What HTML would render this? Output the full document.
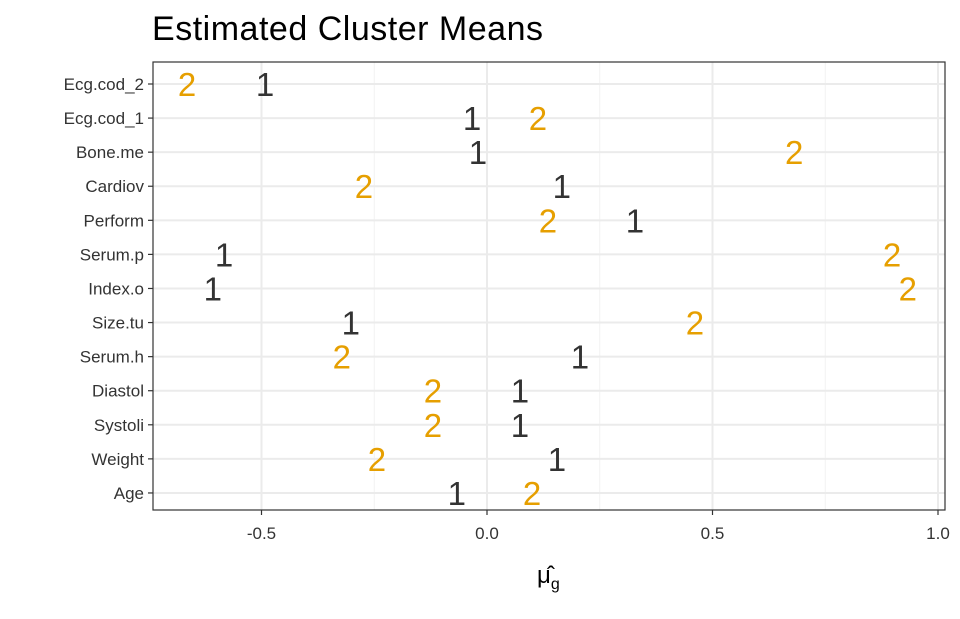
<!DOCTYPE html>
<html><head><meta charset="utf-8"><style>
body{margin:0;background:#fff;}
svg{font-family:"Liberation Sans",sans-serif;}
</style></head><body>
<svg id="chart" width="960" height="614">
<text x="152" y="40" font-size="34" fill="#000" textLength="391">Estimated Cluster Means</text>
<g id="grid"></g>
<g id="marks"></g>
<rect x="153" y="62" width="792" height="448" fill="none" stroke="#333" stroke-width="1.2"/>
<g id="axes"></g>
<text x="537" y="583" font-size="24" fill="#000">μ̂<tspan font-size="16" dy="6">g</tspan></text>
</svg>
<script>
const categories=["Ecg.cod_2","Ecg.cod_1","Bone.me","Cardiov","Perform","Serum.p","Index.o","Size.tu","Serum.h","Diastol","Systoli","Weight","Age"];
const cluster1=[-0.492,-0.033,-0.02,0.166,0.328,-0.583,-0.608,-0.302,0.206,0.073,0.073,0.155,-0.067];
const cluster2=[-0.665,0.113,0.681,-0.273,0.135,0.898,0.933,0.461,-0.322,-0.12,-0.12,-0.244,0.1];
const xTicks=[-0.5,0,0.5,1.0];
const xTickLabels=["-0.5","0.0","0.5","1.0"];
const xMinor=[-0.25,0.25,0.75];
const NS="http://www.w3.org/2000/svg";
const X=v=>487+v*451;
const Y=i=>84+i*34.08;
function mk(tag,attrs,parent,txt){const e=document.createElementNS(NS,tag);for(const k in attrs)e.setAttribute(k,attrs[k]);if(txt!==undefined)e.textContent=txt;document.getElementById(parent).appendChild(e);return e;}
xMinor.forEach(v=>{const l=mk("line",{x1:X(v),x2:X(v),y1:62,y2:510,stroke:"#f2f2f2","stroke-width":1},"grid");

});
xTicks.forEach((v,i)=>{const l=mk("line",{x1:X(v),x2:X(v),y1:62,y2:510,stroke:"#ebebeb","stroke-width":2},"grid");


const t=mk("line",{x1:X(v),x2:X(v),y1:510,y2:515,stroke:"#333","stroke-width":1.2},"axes");


const tx=mk("text",{x:X(v),y:539,"font-size":17,fill:"#333","text-anchor":"middle"},"axes",xTickLabels[i]);

});
categories.forEach((c,i)=>{const y=Y(i);
const g=mk("line",{x1:153,x2:945,y1:y,y2:y,stroke:"#ebebeb","stroke-width":2},"grid");


const t=mk("line",{x1:148,x2:153,y1:y,y2:y,stroke:"#333","stroke-width":1.2},"axes");


const tx=mk("text",{x:144,y:y+6,"font-size":17,fill:"#333","text-anchor":"end"},"axes",c);


const a=mk("text",{x:X(cluster1[i]),y:y+12,"font-size":33,fill:"#333","text-anchor":"middle"},"marks","1");


const b=mk("text",{x:X(cluster2[i]),y:y+12,"font-size":33,fill:"#E69F00","text-anchor":"middle"},"marks","2");

});
</script>
</body></html>
